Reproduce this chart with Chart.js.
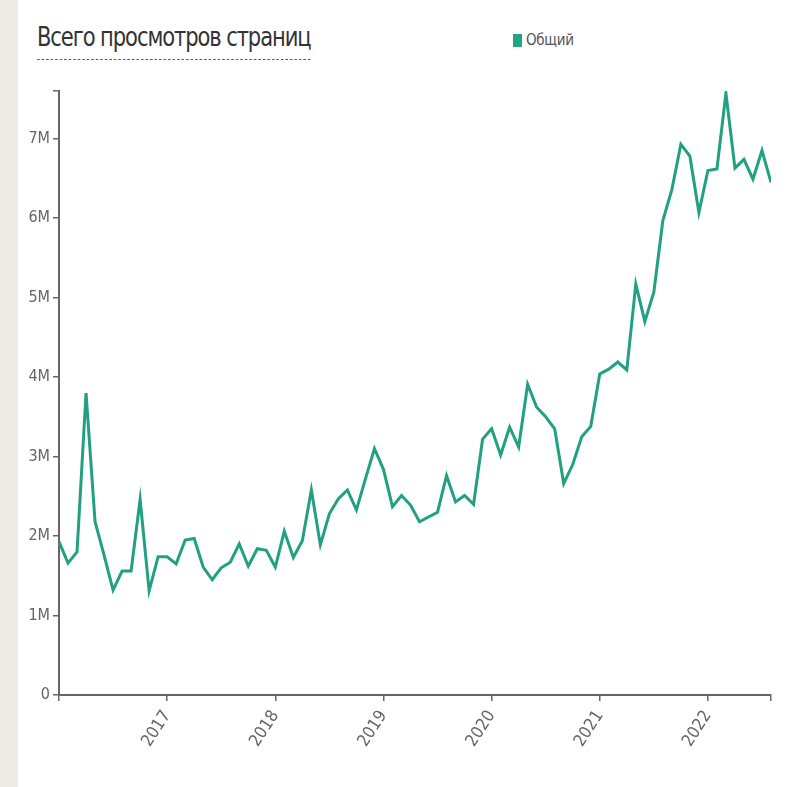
<!DOCTYPE html>
<html lang="ru">
<head>
<meta charset="utf-8">
<title>Всего просмотров страниц</title>
<script src="https://cdn.jsdelivr.net/npm/chart.js@4"></script>
<style>
    html, body {
        margin: 0;
        padding: 0;
        width: 806px;
        height: 787px;
        background: #ffffff;
        overflow: hidden;
    }

    .page {
        position: relative;
        width: 806px;
        height: 787px;
        border-left: 18px solid #eeebe2;
        box-sizing: border-box;
    }

    .chart-title {
        position: absolute;
        left: 19px;
        top: 22px;
        font-family: 'DejaVu Sans Condensed', 'Liberation Sans Narrow', sans-serif;
        font-size: 26px;
        color: #333333;
        padding-bottom: 7px;
        border-bottom: 1px dashed #555555;
        letter-spacing: -1.2px;
        transform: scaleX(0.9);
        transform-origin: left top;
    }

    .legend {
        position: absolute;
        left: 495px;
        top: 31px;
        font-family: 'DejaVu Sans Condensed', 'Liberation Sans Narrow', sans-serif;
        font-size: 15px;
        color: #555555;
        display: flex;
        align-items: center;
        letter-spacing: -0.3px;
    }

    .legend-box {
        width: 9px;
        height: 13px;
        background: #23a486;
        margin-right: 4px;
    }

    canvas {
        position: absolute;
        left: -18px;
        top: 0;
    }
</style>
</head>
<body>
<div class="page">
    <div class="chart-title">Всего просмотров страниц</div>
    <div class="legend"><span class="legend-box"></span>Общий</div>
    <canvas id="viewsChart" width="806" height="787"></canvas>
</div>

<script>
// Данные: просмотры в месяц (млн), с января 2016
const startYear = 2016
const seriesName = 'Общий'

const viewsMillions = [
    1.93, 1.66, 1.80, 3.80, 2.18, 1.76, 1.32, 1.56, 1.56, 2.46, 1.31, 1.74,
    1.74, 1.65, 1.95, 1.97, 1.61, 1.45, 1.60, 1.67, 1.90, 1.62, 1.84, 1.82,
    1.61, 2.06, 1.73, 1.94, 2.58, 1.89, 2.28, 2.47, 2.58, 2.33, 2.72, 3.10,
    2.84, 2.37, 2.51, 2.39, 2.18, 2.24, 2.30, 2.76, 2.43, 2.51, 2.40, 3.22,
    3.35, 3.02, 3.37, 3.12, 3.91, 3.62, 3.50, 3.35, 2.66, 2.90, 3.25, 3.38,
    4.04, 4.10, 4.19, 4.09, 5.17, 4.70, 5.07, 5.97, 6.36, 6.93, 6.78, 6.07,
    6.60, 6.62, 7.57, 6.63, 6.74, 6.49, 6.85, 6.45
]

const yearTicks = ['2017', '2018', '2019', '2020', '2021', '2022']
const yTicks = [0, 1, 2, 3, 4, 5, 6, 7]
const yMax = 7.6

const axisColor = '#666666'
const lineColor = '#21a082'
const fontFamily = "'DejaVu Sans Condensed', 'Liberation Sans Narrow', sans-serif"

const points = viewsMillions.map((v, i) => ({ x: i, y: v }))
const lastIndex = viewsMillions.length - 1

// posições dos anos no eixo (em meses desde o início)
const yearPositions = yearTicks.map((year) => (Number(year) - startYear) * 12)

const ctx = document.getElementById('viewsChart').getContext('2d')

new Chart(ctx, {
    type: 'line',
    data: {
        datasets: [{
            label: seriesName,
            data: points,
            borderColor: lineColor,
            borderWidth: 3,
            pointRadius: 0,
            tension: 0,
            fill: false
        }]
    },
    options: {
        responsive: false,
        animation: false,
        events: [],
        layout: {
            padding: { left: 18, right: 35, top: 91, bottom: 0 }
        },
        plugins: {
            legend: { display: false },
            title: { display: false },
            tooltip: { enabled: false }
        },
        scales: {
            x: {
                type: 'linear',
                min: 0,
                max: lastIndex,
                afterBuildTicks: (scale) => {
                    const values = [0, ...yearPositions, lastIndex]
                    scale.ticks = values.map((value) => ({ value }))
                },
                afterFit: (scale) => {
                    scale.height = 92
                },
                ticks: {
                    autoSkip: false,
                    minRotation: 57,
                    maxRotation: 57,
                    padding: 6,
                    color: '#666666',
                    font: { family: fontFamily, size: 17 },
                    callback: (value) => {
                        const idx = yearPositions.indexOf(value)
                        return idx >= 0 ? yearTicks[idx] : ''
                    }
                },
                grid: {
                    display: true,
                    drawOnChartArea: false,
                    drawTicks: true,
                    tickLength: 6,
                    color: axisColor,
                    lineWidth: 1.5
                },
                border: { display: true, color: axisColor, width: 2 }
            },
            y: {
                type: 'linear',
                min: 0,
                max: yMax,
                afterBuildTicks: (scale) => {
                    scale.ticks = [...yTicks, yMax].map((value) => ({ value }))
                },
                afterFit: (scale) => {
                    scale.width = 41
                },
                ticks: {
                    padding: 3,
                    color: '#666666',
                    font: { family: fontFamily, size: 16 },
                    callback: (value) => {
                        if (!yTicks.includes(value)) return ''
                        return value === 0 ? '0' : `${value}M`
                    }
                },
                grid: {
                    display: true,
                    drawOnChartArea: false,
                    drawTicks: true,
                    tickLength: 6,
                    color: axisColor,
                    lineWidth: 1.5
                },
                border: { display: true, color: axisColor, width: 2 }
            }
        }
    }
})
</script>
</body>
</html>
